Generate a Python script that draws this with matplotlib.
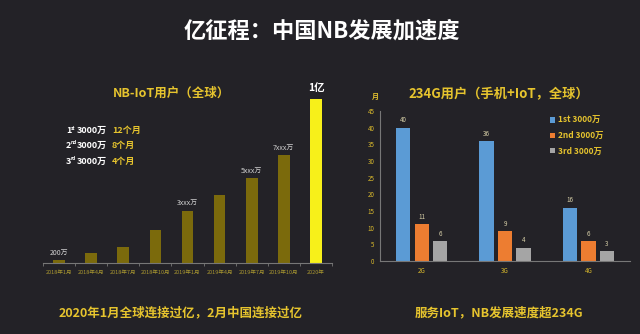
import matplotlib.pyplot as plt
import numpy as np

plt.rcParams['font.family'] = ['Noto Sans CJK SC', 'DejaVu Sans']

# data
months = ["2018年1月", "2018年4月", "2018年7月", "2018年10月", "2019年1月",
          "2019年4月", "2019年7月", "2019年10月", "2020年"]
nb_users = [200, 600, 1000, 2000, 3200, 4150, 5200, 6600, 10000]   # 万
nb_labels = ["200万", "", "", "", "3xxx万", "", "5xxx万", "7xxx万", "1亿"]

gens = ["2G", "3G", "4G"]
first_30m = [40, 36, 16]
second_30m = [11, 9, 6]
third_30m = [6, 4, 3]
series_names = ["1st 3000万", "2nd 3000万", "3rd 3000万"]

W, H = 640, 334
BG = '#232227'
GOLD = '#e6c42e'

fig = plt.figure(figsize=(6.4, 3.34), dpi=100, facecolor=BG)

def px(x, y):
    return x / W, 1 - y / H

def axes_px(l, t, r, b):
    return [l / W, 1 - b / H, (r - l) / W, (b - t) / H]

# title
fig.text(*px(322, 31), "亿征程：中国NB发展加速度", color='white', fontsize=16,
         fontweight='bold', ha='center', va='center')

# ---- left chart
ax1 = fig.add_axes(axes_px(43, 90, 332, 263))
ax1.set_facecolor(BG)
x1 = np.arange(len(months))
colors1 = ['#7b6a0c'] * (len(months) - 1) + ['#f7f01a']
ax1.bar(x1, nb_users, width=0.36, color=colors1)
ax1.set_xlim(-0.5, 8.5)
ax1.set_ylim(0, 10550)
ax1.set_yticks([])
ax1.set_xticks(x1)
ax1.set_xticklabels(months, fontsize=4, color='#a89630')
ax1.set_xticks(np.arange(-0.5, 9, 1), minor=True)
ax1.tick_params(axis='x', which='major', length=0, pad=5)
ax1.tick_params(axis='x', which='minor', length=2, color='#777777')
for s in ['top', 'right', 'left']:
    ax1.spines[s].set_visible(False)
ax1.spines['bottom'].set_color('#777777')
for i, (v, lab) in enumerate(zip(nb_users, nb_labels)):
    if not lab:
        continue
    if i == len(nb_users) - 1:
        ax1.text(i, v + 380, lab, color='white', fontsize=7.5, fontweight='bold',
                 ha='center', va='bottom')
    else:
        ax1.text(i, v + 200, lab, color='#cfcfcf', fontsize=5,
                 ha='center', va='bottom')

fig.text(*px(171, 93), "NB-IoT用户（全球）", color=GOLD, fontsize=9,
         fontweight='bold', ha='center', va='center')

# speed notes
notes = [("1", "st", "12个月"), ("2", "nd", "8个月"), ("3", "rd", "4个月")]
for (n, sup, months_txt), y in zip(notes, [130, 145, 161]):
    fig.text(*px(66, y), n, color='white', fontsize=6.5, fontweight='bold', va='center')
    fig.text(*px(70.5, y - 2), sup, color='white', fontsize=3.5, fontweight='bold', va='center')
    fig.text(*px(77, y), "3000万", color='white', fontsize=6.5, fontweight='bold', va='center')
    fig.text(*px(112, y), months_txt, color=GOLD, fontsize=6.5, fontweight='bold', va='center')

fig.text(*px(181, 313), "2020年1月全球连接过亿，2月中国连接过亿", color=GOLD,
         fontsize=9, fontweight='bold', ha='center', va='center')

# ---- right chart
ax2 = fig.add_axes(axes_px(380, 111, 630, 261))
ax2.set_facecolor(BG)
x2 = np.arange(len(gens))
bw = 0.172
off = 0.222
colors2 = ['#5b9bd5', '#ed7d31', '#a5a5a5']
for k, (vals, c, name) in enumerate(zip([first_30m, second_30m, third_30m], colors2, series_names)):
    ax2.bar(x2 + (k - 1) * off, vals, width=bw, color=c, label=name)
    for xi, v in zip(x2 + (k - 1) * off, vals):
        ax2.text(xi, v + 1.0, str(v), color='#d8d0a8', fontsize=4.5,
                 ha='center', va='bottom')
ax2.set_xlim(-0.5, 2.5)
ax2.set_ylim(0, 45)
ax2.set_yticks(range(0, 46, 5))
ax2.set_xticks(x2)
ax2.set_xticklabels(gens)
ax2.tick_params(axis='y', length=0, labelsize=4.5, labelcolor='#d9b92c', pad=4)
ax2.tick_params(axis='x', length=0, labelsize=4.5, labelcolor='#d9b92c', pad=4)
for s in ['top', 'right']:
    ax2.spines[s].set_visible(False)
ax2.spines['left'].set_color('#777777')
ax2.spines['bottom'].set_color('#777777')
leg = ax2.legend(loc='upper left', bbox_to_anchor=(0.66, 1.0), frameon=False,
                 fontsize=6, handlelength=0.6, handleheight=0.6,
                 handletextpad=0.4, labelspacing=0.75, borderaxespad=0.2)
for t in leg.get_texts():
    t.set_color(GOLD)
    t.set_fontweight('bold')

fig.text(*px(375, 96), "月", color=GOLD, fontsize=5, fontweight='bold',
         ha='center', va='center')
fig.text(*px(499, 94), "234G用户（手机+IoT，全球）", color=GOLD, fontsize=9.5,
         fontweight='bold', ha='center', va='center')
fig.text(*px(499, 313), "服务IoT，NB发展速度超234G", color=GOLD,
         fontsize=9, fontweight='bold', ha='center', va='center')

fig.savefig('out.png', dpi=100, facecolor=BG)
